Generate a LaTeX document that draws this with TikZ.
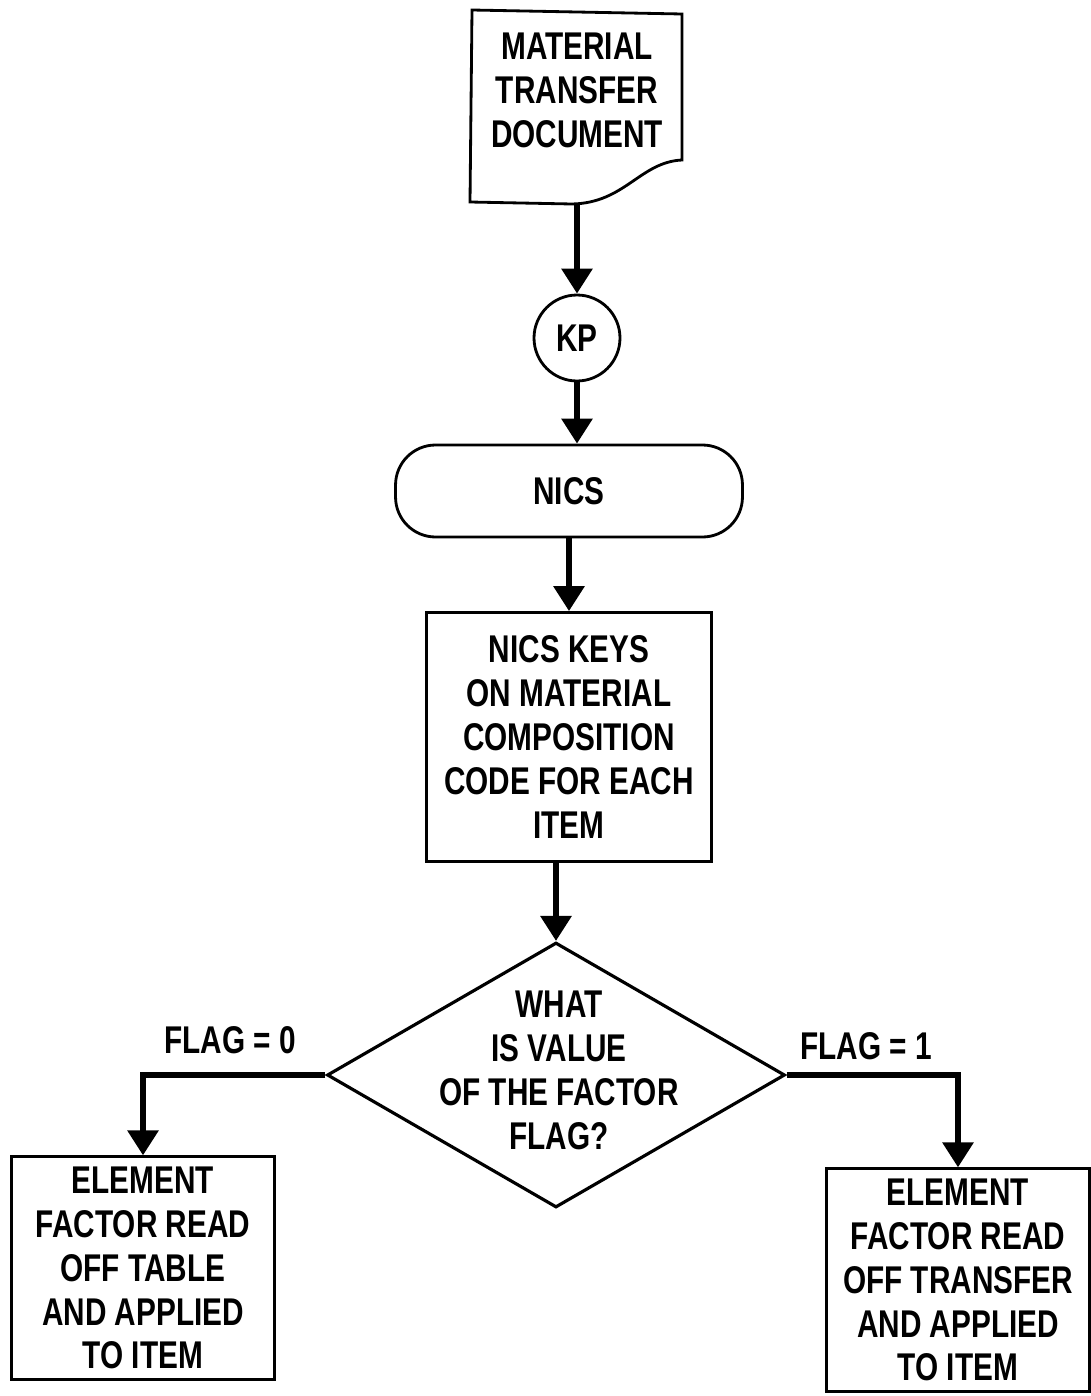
\documentclass[tikz,border=0pt]{standalone}
\usepackage{fontspec}
\setsansfont{Liberation Sans}[FakeStretch=0.77]
\usetikzlibrary{shapes.geometric,arrows.meta,positioning}

\begin{document}
\begin{tikzpicture}[
    x=0.02cm, y=-0.02cm,
    font=\sffamily\bfseries\fontsize{22}{25}\selectfont,
    keycircle/.style={circle, draw, line width=1.6pt, minimum size=1.72cm, inner sep=0pt},
    termbox/.style={rectangle, draw, line width=1.6pt, rounded corners=0.8cm, minimum width=6.94cm, minimum height=1.84cm, align=center},
    procbox/.style={rectangle, draw, line width=1.6pt, minimum width=5.26cm, minimum height=4.45cm, align=center, inner sep=0pt},
    decision/.style={diamond, draw, line width=1.8pt, minimum width=9.16cm, minimum height=5.3cm, inner sep=0pt},
    flow/.style={-{Triangle[length=0.5cm, width=0.6cm]}, line width=3.4pt},
    flagtxt/.style={font=\sffamily\bfseries\fontsize{22}{25}\selectfont}
]
    \useasboundingbox (0,0) rectangle (1091,1396);

    % Document d'entree
    \draw[line width=1.6pt] (472,10) -- (682,14) -- (682,160)
        .. controls (640,162) and (625,203) .. (572,204) -- (470,202) -- cycle;
    \node[align=center] (doc) at (577,90) {MATERIAL\\TRANSFER\\DOCUMENT};
    \coordinate (docout) at (577,204);

    % Connecteur et terminal
    \node[keycircle] (kp) at (577,338) {KP};
    \node[termbox] (nics) at (569,491) {NICS};

    % Traitement
    \node[procbox, minimum width=5.7cm, minimum height=4.98cm] (keys) at (569,737)
        {NICS KEYS\\ON MATERIAL\\COMPOSITION\\CODE FOR EACH\\ITEM};

    % Decision
    \node[decision] (flag) at (556,1075) {};
    \node[align=center] (flagq) at (559,1070) {WHAT\\IS VALUE\\OF THE FACTOR\\FLAG?};

    % Resultats
    \node[procbox] (table) at (143,1268)
        {ELEMENT\\FACTOR READ\\OFF TABLE\\AND APPLIED\\TO ITEM};
    \node[procbox] (xfer) at (958,1280)
        {ELEMENT\\FACTOR READ\\OFF TRANSFER\\AND APPLIED\\TO ITEM};

    \node[flagtxt] (flag0) at (230,1040) {FLAG = 0};
    \node[flagtxt] (flag1) at (866,1046) {FLAG = 1};

    % Liens
    \draw[flow] (docout) -- (kp.north);
    \draw[flow] (kp.south) -- (kp.south |- nics.north);
    \draw[flow] (nics.south) -- (keys.north);
    \draw[flow] (keys.south -| flag.north) -- (flag.north);
    \draw[flow] (flag.west) -| (table.north);
    \draw[flow] (flag.east) -| (xfer.north);

\end{tikzpicture}
\end{document}
